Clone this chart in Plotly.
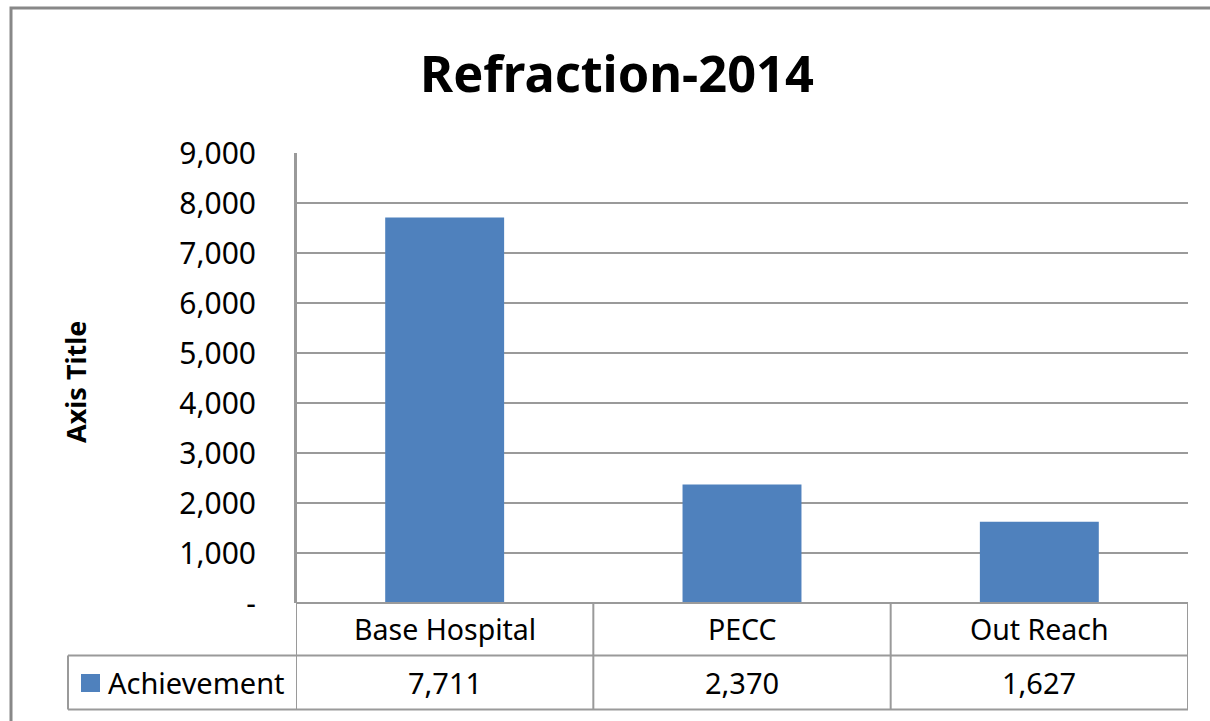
import plotly.graph_objects as go

title = "Refraction-2014"
categories = ["Base Hospital", "PECC", "Out Reach"]
series_name = "Achievement"
values = [7711, 2370, 1627]
y_tickvals = [0, 1000, 2000, 3000, 4000, 5000, 6000, 7000, 8000, 9000]
y_ticktext = ["-", "1,000", "2,000", "3,000", "4,000", "5,000", "6,000", "7,000", "8,000", "9,000"]
y_axis_title = "Axis Title"

W, H = 1210, 721
L, R, T, B = 296, 1188, 153, 603
FONT = "'Noto Sans', sans-serif"
BAR = "#4F81BD"
GRID = "#9a9a9a"


def px(x):
    return (x - L) / (R - L)


def py(y):
    return (B - y) / (B - T)


fig = go.Figure()
fig.add_trace(go.Bar(x=categories, y=values, name=series_name,
                     marker=dict(color=BAR, line=dict(width=0)),
                     width=0.4, showlegend=False, hoverinfo="x+y"))

shapes = []
# outer frame
shapes.append(dict(type="rect", xref="paper", yref="paper",
                   x0=px(11), x1=px(1230), y0=py(8), y1=py(740),
                   line=dict(color="#888888", width=3), layer="above"))
line = dict(color=GRID, width=2)
row1, row2 = 655.5, 709.5
# table horizontal lines
shapes.append(dict(type="line", xref="paper", yref="paper", x0=0, x1=1, y0=py(row1), y1=py(row1), line=line))
shapes.append(dict(type="line", xref="paper", yref="paper", x0=px(68), x1=1, y0=py(row2), y1=py(row2), line=line))
shapes.append(dict(type="line", xref="paper", yref="paper", x0=px(68), x1=0, y0=py(row1), y1=py(row1), line=line))
shapes.append(dict(type="line", xref="paper", yref="paper", x0=0, x1=1, y0=0, y1=0, line=line))
# table vertical lines
shapes.append(dict(type="line", xref="paper", yref="paper", x0=px(68), x1=px(68), y0=py(row1), y1=py(row2), line=line))
for i in range(len(categories) + 1):
    xv = i - 0.5
    shapes.append(dict(type="line", xref="x", yref="paper", x0=xv, x1=xv,
                       y0=1 if i == 0 else 0, y1=py(row2), line=line))
# legend key
shapes.append(dict(type="rect", xref="paper", yref="paper",
                   x0=px(81), x1=px(100), y0=py(674), y1=py(692),
                   fillcolor=BAR, line=dict(width=0)))

annotations = []
annotations.append(dict(text="<b>" + title + "</b>", xref="paper", yref="paper", x=px(617), y=py(72),
                        showarrow=False, font=dict(family=FONT, size=50.5, color="#000000"),
                        xanchor="center", yanchor="middle"))
annotations.append(dict(text="<b>" + y_axis_title + "</b>", xref="paper", yref="paper", x=px(75), y=py(382),
                        showarrow=False, textangle=-90, font=dict(family=FONT, size=27, color="#000000"),
                        xanchor="center", yanchor="middle"))
annotations.append(dict(text=series_name, xref="paper", yref="paper", x=px(106), y=py(682),
                        showarrow=False, font=dict(family=FONT, size=29, color="#000000"),
                        xanchor="left", yanchor="middle"))
for c, v in zip(categories, values):
    annotations.append(dict(text=c, x=c, xref="x", yref="paper", y=py(629), showarrow=False,
                            font=dict(family=FONT, size=28.5, color="#000000"),
                            xanchor="center", yanchor="middle"))
    annotations.append(dict(text=f"{v:,}", x=c, xref="x", yref="paper", y=py(682), showarrow=False,
                            font=dict(family=FONT, size=29, color="#000000"),
                            xanchor="center", yanchor="middle"))

fig.update_layout(
    width=W, height=H,
    margin=dict(l=L, r=W - R, t=T, b=H - B, pad=0),
    paper_bgcolor="white", plot_bgcolor="white",
    bargap=0.6,
    shapes=shapes, annotations=annotations,
    xaxis=dict(showticklabels=False, showgrid=False, zeroline=False, showline=False,
               ticks="", range=[-0.5, 2.5]),
    yaxis=dict(range=[0, 9000], tickvals=y_tickvals, ticktext=y_ticktext,
               showgrid=True, gridcolor=GRID, gridwidth=2, zeroline=False,
               showline=True, linecolor=GRID, linewidth=2,
               ticks="", ticklabelstandoff=32,
               tickfont=dict(family=FONT, size=30, color="#000000")),
    font=dict(family=FONT),
)

fig.write_html("out.html", config={"displayModeBar": False},
               post_script="document.body.style.margin='0';document.body.style.overflow='hidden';")
